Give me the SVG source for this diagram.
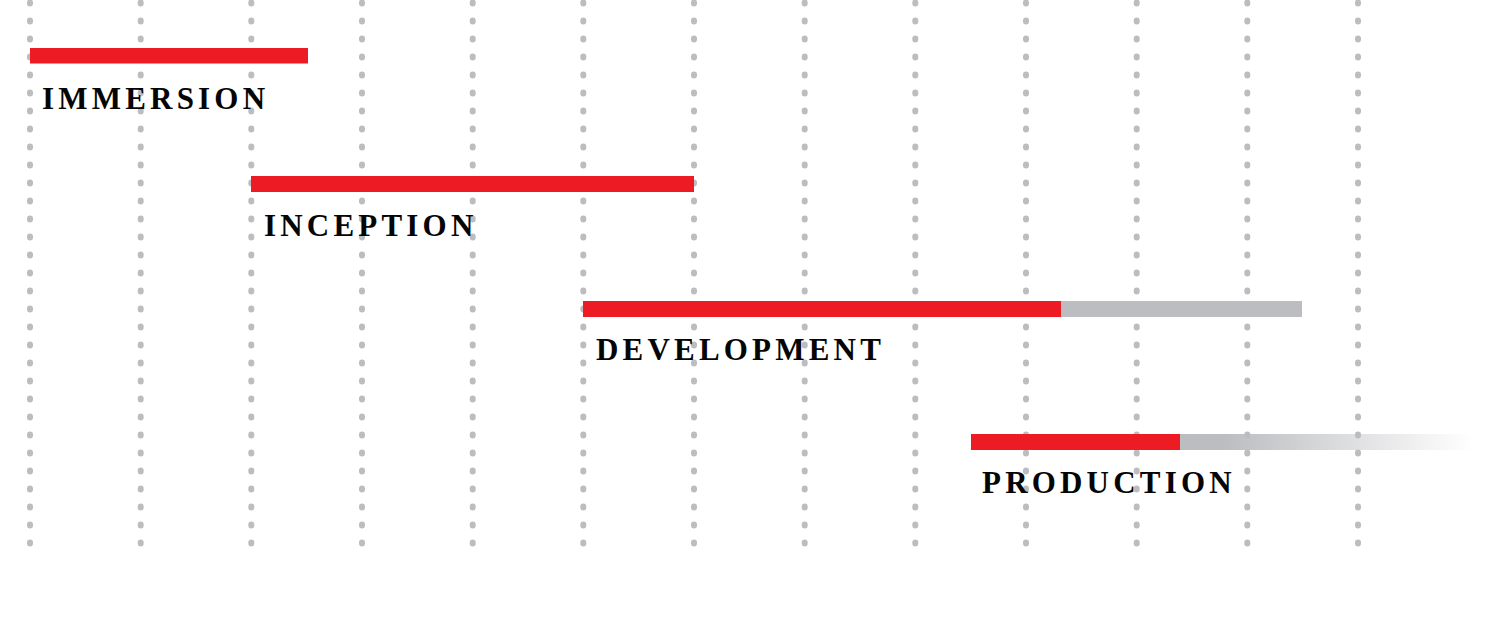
<svg xmlns="http://www.w3.org/2000/svg" width="1500" height="620" viewBox="0 0 1500 620">
  <style>
    .grid line { stroke: #BCBDC0; stroke-width: 6; stroke-linecap: round; stroke-dasharray: 1 17; }
    .red { fill: #ED1C24; }
    .gray { fill: #BCBDC0; }
    .label { font-family: "Liberation Serif", "DejaVu Serif", serif; font-weight: bold; font-size: 31px; letter-spacing: 4.2px; fill: #050505; }
  </style>
  <defs>
    <linearGradient id="fade" gradientUnits="userSpaceOnUse" x1="1180" y1="0" x2="1472" y2="0">
      <stop offset="0" stop-color="#BCBDC0"/>
      <stop offset="0.15" stop-color="#BCBDC0"/>
      <stop offset="1" stop-color="#BCBDC0" stop-opacity="0"/>
    </linearGradient>
  </defs>
  <rect width="1500" height="620" fill="#ffffff"/>
  <g id="grid" class="grid">
    <line x1="30" y1="2.5" x2="30" y2="544"/>
    <line x1="140.7" y1="2.5" x2="140.7" y2="544"/>
    <line x1="251.3" y1="2.5" x2="251.3" y2="544"/>
    <line x1="362" y1="2.5" x2="362" y2="544"/>
    <line x1="472.7" y1="2.5" x2="472.7" y2="544"/>
    <line x1="583.3" y1="2.5" x2="583.3" y2="544"/>
    <line x1="694" y1="2.5" x2="694" y2="544"/>
    <line x1="804.7" y1="2.5" x2="804.7" y2="544"/>
    <line x1="915.3" y1="2.5" x2="915.3" y2="544"/>
    <line x1="1026" y1="2.5" x2="1026" y2="544"/>
    <line x1="1136.7" y1="2.5" x2="1136.7" y2="544"/>
    <line x1="1247.3" y1="2.5" x2="1247.3" y2="544"/>
    <line x1="1358" y1="2.5" x2="1358" y2="544"/>
  </g>
  <g id="connectors"></g>
  <g id="immersion">
    <rect class="red" x="30" y="48" width="278" height="15.5"/>
    <text class="label" x="42" y="109">IMMERSION</text>
  </g>
  <g id="inception">
    <rect class="red" x="251" y="176" width="443" height="16"/>
    <text class="label" x="264" y="236">INCEPTION</text>
  </g>
  <g id="development">
    <rect class="gray" x="1061" y="301" width="241" height="16"/>
    <rect class="red" x="583" y="301" width="478" height="16"/>
    <text class="label" x="596" y="360">DEVELOPMENT</text>
  </g>
  <g id="production">
    <rect x="1180" y="434" width="292" height="16" fill="url(#fade)"/>
    <rect class="red" x="971" y="434" width="209" height="16"/>
    <text class="label" x="982" y="493">PRODUCTION</text>
  </g>
</svg>
